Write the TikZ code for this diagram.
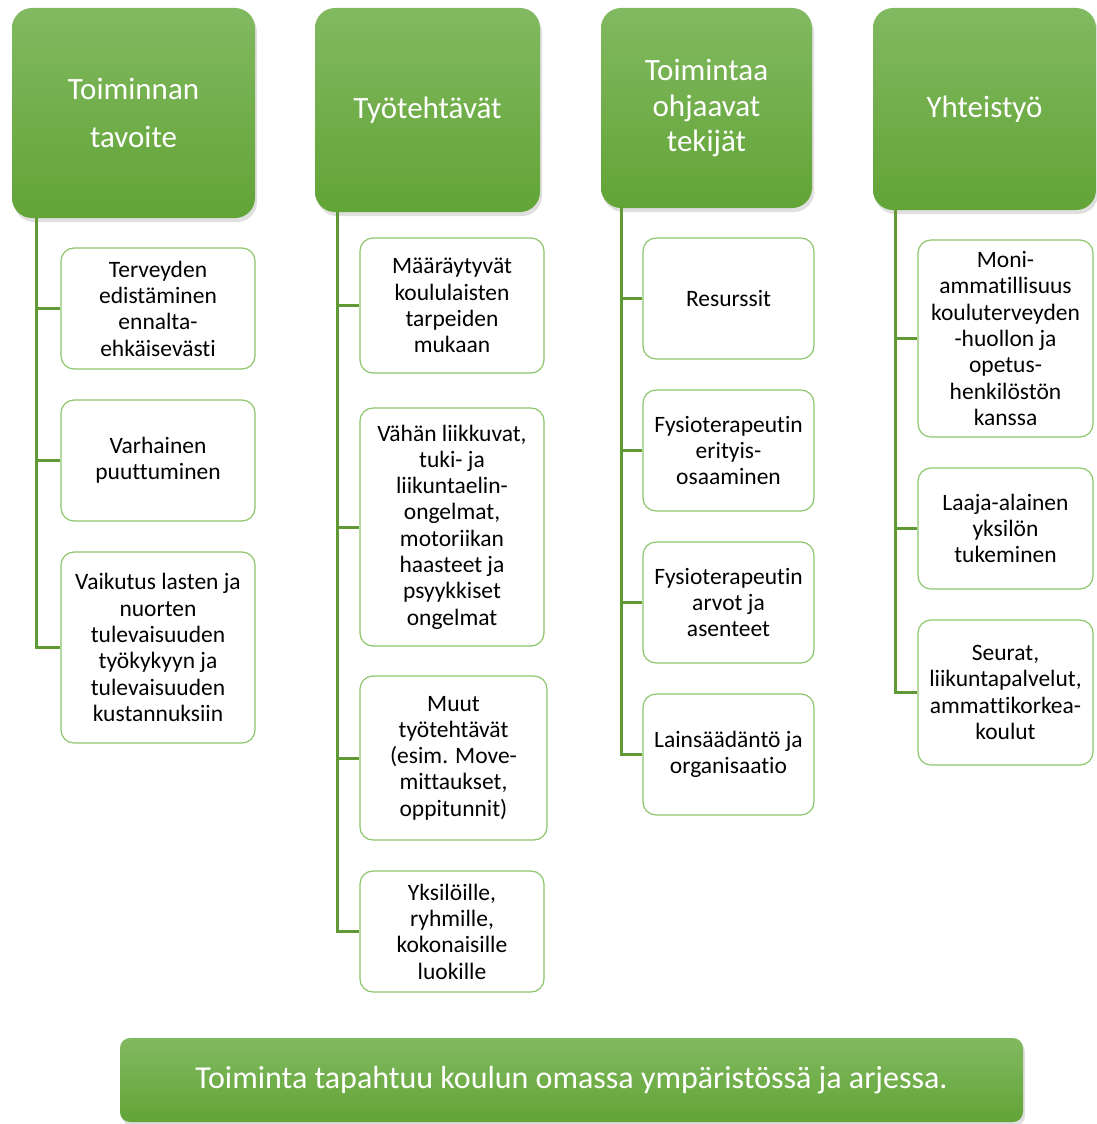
\documentclass[tikz,border=0pt]{standalone}
\usepackage{fontspec}
\setmainfont{Carlito}[Ligatures=NoCommon]
\usetikzlibrary{shadows}
\definecolor{headtop}{RGB}{129,185,96}
\definecolor{headbot}{RGB}{98,164,54}
\definecolor{boxline}{RGB}{140,197,106}
\definecolor{linegreen}{RGB}{96,152,52}
\begin{document}
\begin{tikzpicture}[x=1pt,y=-1pt,
    head/.style={rounded corners=20pt,top color=headtop,bottom color=headbot,
      text=white,align=center,inner sep=0pt,font=\fontsize{31}{35.5}\selectfont,
      drop shadow={opacity=0.25,shadow xshift=2pt,shadow yshift=-4pt}},
    item/.style={draw=boxline,line width=1.2pt,rounded corners=13pt,fill=white,
      align=center,inner sep=0pt,font=\fontsize{23.5}{26.3}\selectfont},
    branch/.style={draw=linegreen,line width=3pt}]
    \useasboundingbox (0,0) rectangle (1097,1124);

    % Column heads
    \node[head,minimum width=243pt,minimum height=210pt] (h1) at (133.5,113) {Toiminnan\\[13pt]tavoite};
    \node[head,minimum width=225pt,minimum height=204pt] (h2) at (427.5,110) {Työtehtävät};
    \node[head,minimum width=211pt,minimum height=200pt] (h3) at (706.5,108) {Toimintaa\\ohjaavat\\tekijät};
    \node[head,minimum width=223pt,minimum height=202pt] (h4) at (984.5,109) {Yhteistyö};

    % Toiminnan tavoite
    \node[item,minimum width=194pt,minimum height=121pt] (t1) at (158,308.5) {Terveyden\\edistäminen\\ennalta-\\ehkäisevästi};
    \node[item,minimum width=194pt,minimum height=121pt] (t2) at (158,460.5) {Varhainen\\puuttuminen};
    \node[item,minimum width=194pt,minimum height=191pt] (t3) at (158,647.5) {Vaikutus lasten ja\\nuorten\\tulevaisuuden\\työkykyyn ja\\tulevaisuuden\\kustannuksiin};

    % Työtehtävät
    \node[item,minimum width=184pt,minimum height=135pt] (w1) at (452,305.5) {Määräytyvät\\koululaisten\\tarpeiden\\mukaan};
    \node[item,minimum width=184pt,minimum height=238pt] (w2) at (452,527) {Vähän liikkuvat,\\tuki- ja\\liikuntaelin-\\ongelmat,\\motoriikan\\haasteet ja\\psyykkiset\\ongelmat};
    \node[item,minimum width=187pt,minimum height=164pt] (w3) at (453.5,758) {Muut\\työtehtävät\\(esim. Move-\\mittaukset,\\oppitunnit)};
    \node[item,minimum width=184pt,minimum height=121pt] (w4) at (452,931.5) {Yksilöille,\\ryhmille,\\kokonaisille\\luokille};

    % Toimintaa ohjaavat tekijät
    \node[item,minimum width=171pt,minimum height=121pt] (f1) at (728.5,298.5) {Resurssit};
    \node[item,minimum width=171pt,minimum height=121pt] (f2) at (728.5,450.5) {Fysioterapeutin\\erityis-\\osaaminen};
    \node[item,minimum width=171pt,minimum height=121pt] (f3) at (728.5,602.5) {Fysioterapeutin\\arvot ja\\asenteet};
    \node[item,minimum width=171pt,minimum height=121pt] (f4) at (728.5,754.5) {Lainsäädäntö ja\\organisaatio};

    % Yhteistyö
    \node[item,minimum width=175pt,minimum height=197pt] (y1) at (1005.5,338.5) {Moni-\\ammatillisuus\\kouluterveyden\\-huollon ja\\opetus-\\henkilöstön\\kanssa};
    \node[item,minimum width=175pt,minimum height=121pt] (y2) at (1005.5,528.5) {Laaja-alainen\\yksilön\\tukeminen};
    \node[item,minimum width=175pt,minimum height=145pt] (y3) at (1005.5,692.5) {Seurat,\\liikuntapalvelut,\\ammattikorkea-\\koulut};

    % Branch lines
    \foreach \c in {t1,t2,t3}
        \draw[branch] ([xshift=25pt]h1.south west) |- (\c.west);
    \foreach \c in {w1,w2,w3,w4}
        \draw[branch] ([xshift=23pt]h2.south west) |- (\c.west);
    \foreach \c in {f1,f2,f3,f4}
        \draw[branch] ([xshift=21pt]h3.south west) |- (\c.west);
    \foreach \c in {y1,y2,y3}
        \draw[branch] ([xshift=23pt]h4.south west) |- (\c.west);

    % Bottom banner
    \node[head,rounded corners=10pt,font=\fontsize{32}{36}\selectfont,
      minimum width=903pt,minimum height=84pt] (env) at (571.5,1080) {Toiminta tapahtuu koulun omassa ympäristössä ja arjessa.};
\end{tikzpicture}
\end{document}
